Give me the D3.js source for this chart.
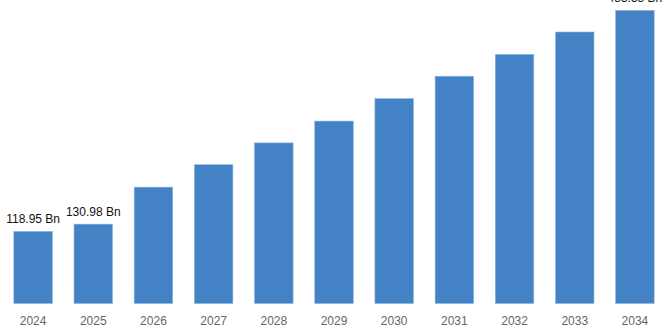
<!DOCTYPE html>
<html>
<head>
<meta charset="utf-8">
<script src="https://cdn.jsdelivr.net/npm/d3@7"></script>
<style>
  html, body { margin: 0; padding: 0; background: #ffffff; }
  svg { display: block; }
</style>
</head>
<body>
<svg id="chart" width="668" height="334"></svg>
<script>
const years = ["2024","2025","2026","2027","2028","2029","2030","2031","2032","2033","2034"];
const values = [118.95, 130.98, 192, 229, 265, 301, 338, 375, 411, 448, 483.58];
const labels = ["118.95 Bn", "130.98 Bn", "", "", "", "", "", "", "", "", "483.58 Bn"];

const svg = d3.select("#chart");
const W = 668, H = 334;
const baseY = 303.5;

const x = d3.scaleBand()
  .domain(years)
  .range([3, 665])
  .paddingInner(0.36)
  .paddingOuter(0.18);

const y = d3.scaleLinear()
  .domain([0, 500])
  .range([baseY, baseY - 303]);

svg.append("g")
  .selectAll("rect")
  .data(years)
  .join("rect")
  .attr("x", d => x(d))
  .attr("width", x.bandwidth())
  .attr("y", (d, i) => y(values[i]))
  .attr("height", (d, i) => y(0) - y(values[i]))
  .attr("fill", "#4282c5")
  .attr("stroke", "#8db3df")
  .attr("stroke-width", 0.6);

svg.append("g")
  .selectAll("text")
  .data(years)
  .join("text")
  .attr("x", d => x(d) + x.bandwidth() / 2)
  .attr("y", (d, i) => y(values[i]) - 8)
  .attr("text-anchor", "middle")
  .attr("font-family", "Liberation Sans, Arial, Helvetica, sans-serif")
  .attr("font-size", 12)
  .attr("fill", "#111111")
  .text((d, i) => labels[i]);

const xAxis = d3.axisBottom(x).tickSize(0).tickPadding(0);
const gx = svg.append("g")
  .attr("transform", `translate(0, ${baseY})`)
  .call(xAxis);
gx.select(".domain").remove();
gx.selectAll("text")
  .attr("dy", null)
  .attr("y", 21)
  .attr("font-family", "Liberation Sans, Arial, Helvetica, sans-serif")
  .attr("font-size", 12)
  .attr("fill", "#666666");
</script>
</body>
</html>
